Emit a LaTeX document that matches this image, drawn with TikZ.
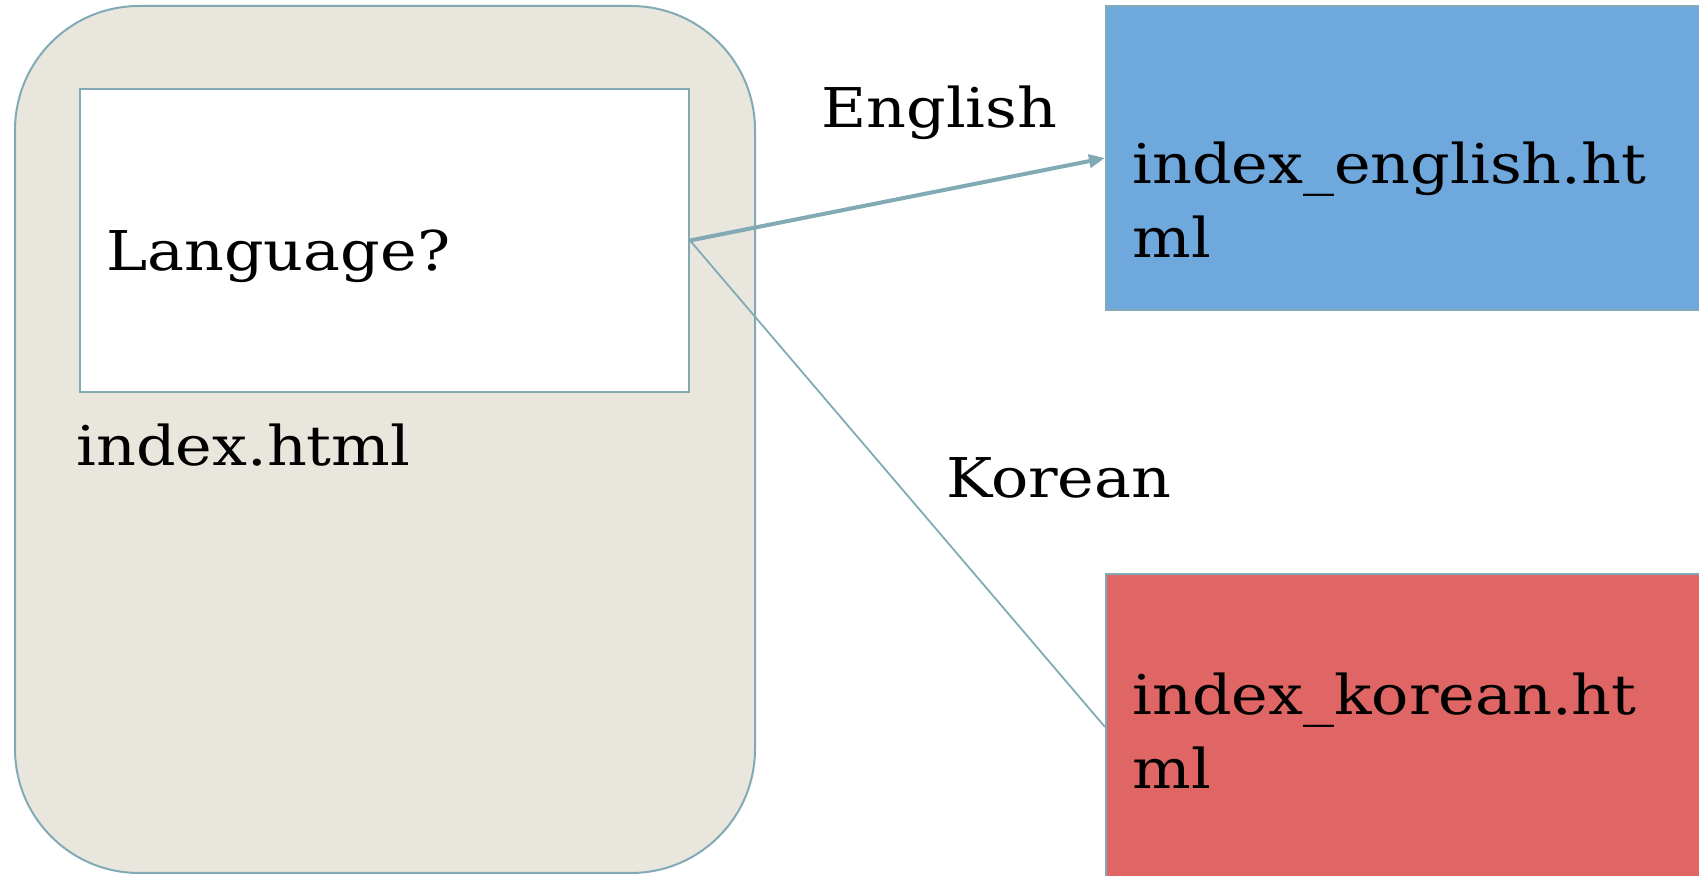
\documentclass[tikz,border=0pt]{standalone}
\usepackage{fontspec}
\setmainfont[FakeStretch=1.13]{DejaVu Serif}
\usetikzlibrary{arrows.meta}
\definecolor{pagefill}{HTML}{E9E7DD}
\definecolor{edgeblue}{HTML}{82AAB5}
\definecolor{engfill}{HTML}{6FA8DC}
\definecolor{korfill}{HTML}{E06666}
\tikzset{
  shell/.style={draw=edgeblue, line width=1pt, fill=pagefill, rounded corners=62pt},
  panel/.style={draw=edgeblue, line width=1pt, inner sep=0pt},
  caption/.style={font=\fontsize{27.4}{37}\selectfont, inner sep=0pt, align=left},
  link/.style={draw=edgeblue}
}
\begin{document}
\begin{tikzpicture}[x=0.5pt, y=-0.5pt]
  \useasboundingbox (0,0) rectangle (1699,876);
  % page shell with the language question
  \node[shell, minimum width=370pt, minimum height=433.5pt] (page) at (385,439.5) {};
  \node[panel, fill=white, minimum width=304.5pt, minimum height=151.5pt] (ask) at (384.5,240.5) {};
  \node[caption, anchor=base west] (asktext) at (106,271) {Language?};
  \node[caption, anchor=base west] (pagename) at (76,466) {index.html};
  % target pages
  \node[panel, fill=engfill, minimum width=307pt, minimum height=152pt] (eng) at (1413,158) {};
  \node[caption, anchor=base west] (engtext) at (1132,258) {index\_english.ht\\ml};
  \node[panel, fill=korfill, minimum width=307pt, minimum height=153pt] (kor) at (1413,727) {};
  \node[caption, anchor=base west] (kortext) at (1132,789) {index\_korean.ht\\ml};
  % branches
  \draw[link, line width=2pt, -{Triangle[length=8pt,width=6.5pt]}] (ask.east) -- (eng.west);
  \draw[link, line width=0.9pt] (ask.east) -- (kor.west);
  \node[caption, anchor=base west] (englabel) at (821,128) {English};
  \node[caption, anchor=base west] (korlabel) at (946,498) {Korean};
\end{tikzpicture}
\end{document}
